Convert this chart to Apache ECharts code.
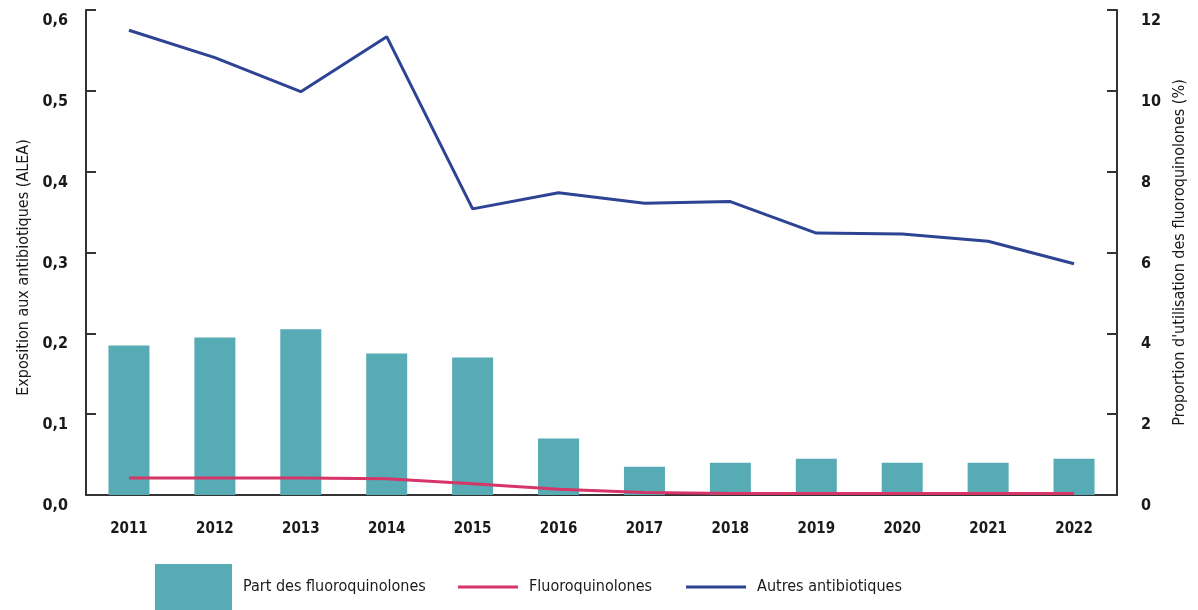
<!DOCTYPE html>
<html>
<head>
<meta charset="utf-8">
<script src="https://cdn.jsdelivr.net/npm/echarts@6/dist/echarts.min.js"></script>
<style>
  html, body { margin: 0; padding: 0; background: #fff; }
  #container { width: 1198px; height: 610px; }
</style>
</head>
<body>
<div id="container"></div>
<script>
var years = ["2011", "2012", "2013", "2014", "2015", "2016", "2017", "2018", "2019", "2020", "2021", "2022"];
// Part des fluoroquinolones (%), right axis
var partFq = [3.7, 3.9, 4.1, 3.5, 3.4, 1.4, 0.7, 0.8, 0.9, 0.8, 0.8, 0.9];
// Exposition (ALEA), left axis
var fluoro = [0.021, 0.021, 0.021, 0.020, 0.014, 0.007, 0.003, 0.002, 0.002, 0.002, 0.002, 0.002];
var autres = [0.575, 0.541, 0.499, 0.567, 0.354, 0.374, 0.361, 0.363, 0.324, 0.323, 0.314, 0.286];

var font = "'Liberation Sans Narrow', 'DejaVu Sans Condensed', sans-serif";
var axisColor = "#333";

var dom = document.getElementById("container");
var myChart = echarts.init(dom);

var option = {
  backgroundColor: "#fff",
  textStyle: { fontFamily: font },
  animation: false,
  grid: {
    left: 86,
    right: 81,
    top: 10,
    bottom: 115,
  },
  legend: [
    {
      left: 155,
      top: 564,
      padding: 0,
      itemWidth: 77,
      itemHeight: 46,
      icon: "rect",
      data: ["Part des fluoroquinolones"],
      textStyle: { fontFamily: font, fontSize: 16, color: "#1a1a1a", padding: [0, 0, 0, 6] },
    },
    {
      left: 458,
      top: 579,
      padding: 0,
      itemWidth: 60,
      itemHeight: 3,
      itemGap: 34,
      icon: "rect",
      data: ["Fluoroquinolones", "Autres antibiotiques"],
      textStyle: { fontFamily: font, fontSize: 16, color: "#1a1a1a", padding: [0, 0, 0, 6] },
    },
  ],
  xAxis: {
    type: "category",
    data: years,
    axisLine: { lineStyle: { color: axisColor, width: 2 } },
    axisTick: { show: false },
    axisLabel: {
      margin: 27,
      color: "#1a1a1a",
      fontFamily: font,
      fontSize: 15,
      fontWeight: "bold",
    },
  },
  yAxis: [
    {
      type: "value",
      min: 0,
      max: 0.6,
      interval: 0.1,
      position: "left",
      name: "Exposition aux antibiotiques (ALEA)",
      nameLocation: "middle",
      nameRotate: 90,
      nameGap: 44,
      nameTextStyle: { fontFamily: font, fontSize: 16, color: "#1a1a1a", padding: [0, 30, 0, 0] },
      splitLine: { show: false },
      axisLine: { show: true, lineStyle: { color: axisColor, width: 2 } },
      axisTick: { show: true, inside: true, length: 10, lineStyle: { color: axisColor, width: 2 } },
      axisLabel: {
        margin: 18,
        color: "#1a1a1a",
        fontFamily: font,
        fontSize: 16,
        fontWeight: "bold",
        verticalAlign: "top",
        padding: [3, 0, 0, 0],
        formatter: function (v) {
          return v.toFixed(1).replace(".", ",");
        },
      },
    },
    {
      type: "value",
      min: 0,
      max: 12,
      interval: 2,
      position: "right",
      name: "Proportion d'utilisation des fluoroquinolones (%)",
      nameLocation: "middle",
      nameRotate: 90,
      nameGap: 54,
      nameTextStyle: { fontFamily: font, fontSize: 16, color: "#1a1a1a" },
      splitLine: { show: false },
      axisLine: { show: true, lineStyle: { color: axisColor, width: 2 } },
      axisTick: { show: true, inside: true, length: 10, lineStyle: { color: axisColor, width: 2 } },
      axisLabel: {
        margin: 24,
        color: "#1a1a1a",
        fontFamily: font,
        fontSize: 16,
        fontWeight: "bold",
        verticalAlign: "top",
        padding: [3, 0, 0, 0],
      },
    },
  ],
  series: [
    {
      name: "Part des fluoroquinolones",
      type: "bar",
      yAxisIndex: 1,
      barWidth: 41,
      data: partFq,
      itemStyle: { color: "#56abb4" },
    },
    {
      name: "Fluoroquinolones",
      type: "line",
      yAxisIndex: 0,
      data: fluoro,
      showSymbol: false,
      symbol: "none",
      lineStyle: { color: "#d63567", width: 3 },
      itemStyle: { color: "#d63567" },
    },
    {
      name: "Autres antibiotiques",
      type: "line",
      yAxisIndex: 0,
      data: autres,
      showSymbol: false,
      symbol: "none",
      lineStyle: { color: "#2d4393", width: 3 },
      itemStyle: { color: "#2d4393" },
    },
  ],
};

myChart.setOption(option);
</script>
</body>
</html>
